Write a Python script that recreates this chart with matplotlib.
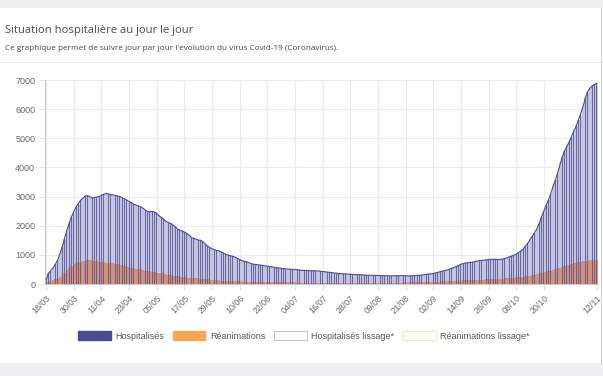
import matplotlib.pyplot as plt
import matplotlib.patches as mpatches
from datetime import date, timedelta

# daily values, 18/03 -> 12/11
hospitalises = [
    150, 370, 460, 550, 680, 820, 1050, 1280, 1560, 1850, 2080, 2310, 2480, 2650,
    2760, 2880, 2950, 3020, 3030, 3000, 2950,
    2970, 2990, 3000, 3050, 3080, 3110, 3090,
    3070, 3060, 3040, 3020, 3000, 2960, 2920,
    2880, 2830, 2790, 2740, 2710, 2680, 2650,
    2600, 2540, 2490, 2480, 2490, 2470, 2420,
    2340, 2290, 2220, 2150, 2110, 2080, 2020,
    1960, 1890, 1850, 1820, 1780, 1740, 1680,
    1600, 1570, 1540, 1510, 1500, 1450, 1380,
    1300, 1250, 1210, 1180, 1150, 1140, 1100,
    1060, 1020, 990, 970, 950, 920, 880,
    840, 800, 780, 760, 730, 700, 680,
    670, 660, 650, 640, 620, 610, 600,
    590, 570, 560, 550, 540, 530, 520,
    510, 505, 500, 495, 490, 480, 470,
    465, 460, 460, 455, 455, 450, 450,
    440, 430, 420, 410, 400, 390, 380,
    370, 360, 355, 350, 345, 340, 335,
    330, 325, 320, 320, 315, 310, 305,
    300, 300, 295, 295, 290, 290, 285,
    285, 285, 280, 280, 285, 285, 285,
    285, 290, 285, 280, 280, 285, 290,
    295, 300, 310, 320, 330, 340, 350,
    360, 380, 400, 420, 440, 460, 480,
    510, 540, 570, 600, 640, 680, 700,
    720, 730, 740, 750, 770, 790, 800,
    810, 820, 830, 840, 850, 850, 845,
    840, 845, 850, 870, 900, 930, 960,
    990, 1020, 1080, 1130, 1200, 1300, 1400,
    1520, 1640, 1760, 1900, 2080, 2300, 2500,
    2700, 2880, 3100, 3350, 3570, 3820, 4100,
    4370, 4560, 4720, 4880, 5050, 5250, 5420,
    5620, 5850, 6090, 6380, 6600, 6720, 6800,
    6850, 6890,
]

reanimations = [
    40, 80, 110, 140, 170, 200, 240, 300, 380, 470, 560, 620, 680, 710,
    740, 770, 790, 800, 810, 820, 810,
    800, 790, 770, 750, 740, 730, 725,
    720, 715, 700, 680, 660, 640, 610,
    590, 570, 555, 540, 525, 510, 500,
    480, 460, 445, 430, 415, 400, 385,
    375, 365, 350, 335, 320, 305, 290,
    275, 260, 250, 240, 230, 220, 210,
    205, 200, 195, 190, 185, 175, 165,
    155, 145, 140, 135, 130, 125, 120,
    115, 110, 105, 100, 98, 95, 92,
    90, 88, 85, 82, 80, 78, 76,
    75, 73, 72, 70, 68, 67, 66,
    65, 64, 62, 60, 58, 57, 56,
    55, 54, 53, 52, 51, 50, 50,
    49, 48, 48, 47, 47, 46, 46,
    45, 45, 44, 44, 43, 43, 42,
    42, 41, 41, 40, 40, 40, 40,
    40, 40, 40, 41, 41, 42, 42,
    43, 43, 44, 44, 45, 45, 46,
    46, 47, 47, 48, 48, 49, 50,
    51, 52, 53, 54, 55, 57, 59,
    61, 63, 65, 67, 70, 72, 75,
    78, 80, 83, 86, 90, 93, 96,
    100, 104, 108, 112, 116, 120, 124,
    128, 131, 134, 137, 140, 143, 146,
    150, 153, 156, 160, 164, 168, 172,
    176, 180, 185, 190, 196, 202, 210,
    218, 226, 235, 245, 255, 265, 278,
    290, 305, 320, 340, 360, 380, 400,
    420, 440, 460, 485, 510, 535, 560,
    585, 610, 635, 660, 685, 705, 725,
    745, 760, 775, 790, 805, 815, 825,
    835, 840,
]

start = date(2020, 3, 18)
dates = [start + timedelta(days=i) for i in range(len(hospitalises))]
labels = [d.strftime("%d/%m") for d in dates]
tick_idx = list(range(0, 217, 12)) + [len(labels) - 1]

navy = "#4c4a8c"
lavender = "#c3c3e2"
orange = "#f8a85a"
grey_txt = "#666666"

fig = plt.figure(figsize=(6.03, 3.76), dpi=100)
fig.patch.set_facecolor("white")

# page chrome
fig.add_artist(mpatches.Rectangle((0, 1 - 8 / 376), 1, 8 / 376, transform=fig.transFigure,
                                  color="#f0f0f3", lw=0))
fig.add_artist(mpatches.Rectangle((0, 0), 1, 13 / 376, transform=fig.transFigure,
                                  color="#f0f0f3", lw=0))
fig.add_artist(plt.Line2D([0, 1], [1 - 62 / 376] * 2, transform=fig.transFigure,
                          color="#ececec", lw=0.8))
fig.add_artist(plt.Line2D([600.5 / 603] * 2, [13 / 376, 1 - 8 / 376], transform=fig.transFigure,
                          color="#d4d4d4", lw=0.8))
fig.text(5 / 603, 1 - 30 / 376, "Situation hospitalière au jour le jour",
         family="Open Sans", fontsize=8.1, color="#4a4a4a", va="center")
fig.text(5 / 603, 1 - 49 / 376,
         "Ce graphique permet de suivre jour par jour l'évolution du virus Covid-19 (Coronavirus).",
         family="Open Sans", fontsize=5.9, color="#444444", va="center")

ax = fig.add_axes([45 / 603, 92 / 376, 553 / 603, 204 / 376])
x = list(range(len(hospitalises)))

ax.bar(x, hospitalises, width=1.0, color=lavender, lw=0, zorder=2)
ax.bar(x, reanimations, width=1.0, color="#d3937a", lw=0, zorder=3)
ax.bar(x, hospitalises, width=0.35, color=navy, alpha=0.75, lw=0, zorder=4)
ax.plot(x, hospitalises, color=navy, lw=0.8, zorder=5)

ax.set_xlim(-0.5, len(x) - 0.5)
ax.set_ylim(0, 7000)
ax.set_yticks(range(0, 7001, 1000))
ax.set_xticks(tick_idx)
ax.set_xticklabels([labels[i] for i in tick_idx], rotation=45, ha="right",
                   rotation_mode="anchor", family="Liberation Sans", fontsize=6.3,
                   color=grey_txt)
for t in ax.get_yticklabels():
    t.set_family("Liberation Sans")
    t.set_fontsize(6.5)
    t.set_color(grey_txt)
ax.tick_params(axis="both", length=4, color="#e2e2e2", pad=3)
ax.grid(True, color="#ebebeb", lw=0.8, zorder=0)
ax.set_axisbelow(True)
for s in ["top", "right"]:
    ax.spines[s].set_visible(False)
for s in ["left", "bottom"]:
    ax.spines[s].set_color("#c8c8c8")
    ax.spines[s].set_linewidth(0.8)

handles = [
    mpatches.Patch(facecolor=navy, edgecolor=navy, label="Hospitalisés"),
    mpatches.Patch(facecolor=orange, edgecolor=orange, label="Réanimations"),
    mpatches.Patch(facecolor="white", edgecolor="#b8b8c8", lw=0.6, label="Hospitalisés lissage*"),
    mpatches.Patch(facecolor="white", edgecolor="#f8dcbc", lw=0.6, label="Réanimations lissage*"),
]
leg = fig.legend(handles=handles, loc="center", bbox_to_anchor=(304 / 603, 1 - 336 / 376),
                 ncol=4, frameon=False, handlelength=3.6, handleheight=1.1,
                 columnspacing=1.0, handletextpad=0.5,
                 prop={"family": "Liberation Sans", "size": 6.5})
for t in leg.get_texts():
    t.set_color("#555555")

fig.savefig("out.png", dpi=100)
